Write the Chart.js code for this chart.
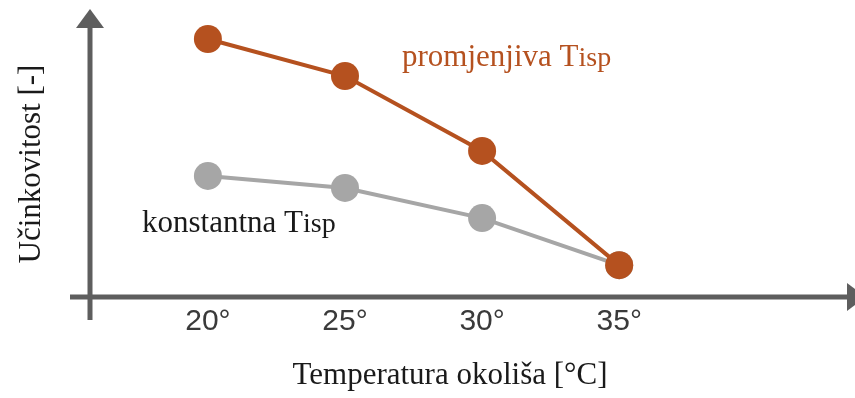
<!DOCTYPE html>
<html>
<head>
<meta charset="utf-8">
<script src="https://cdn.jsdelivr.net/npm/chart.js@4.4.0/dist/chart.umd.min.js"></script>
<style>
  html, body { margin: 0; padding: 0; background: #fff; }
  #wrap { width: 855px; height: 398px; }
</style>
</head>
<body>
<div id="wrap"><canvas id="myChart"></canvas></div>
<script>
// temperatures on the x axis
const temps = [20, 25, 30, 35];
// efficiency values (arbitrary units, 0..100)
const variableTisp = [89.9, 77.0, 50.9, 11.1];
const constantTisp = [42.2, 38.0, 27.5, 11.1];

const orange = '#B5511F';
const grey = '#A6A6A6';
const axisColor = '#5E5E5E';
const serif = '"Liberation Serif", "Times New Roman", serif';
const sans = '"Liberation Sans", Arial, sans-serif';

const toPoints = (vals) => temps.map((t, i) => ({ x: t, y: vals[i] }));

// draws arrowed axes, axis titles and the two series labels
const decor = {
    id: 'decor',
    beforeDatasetsDraw(chart) {
        const ctx = chart.ctx;
        const a = chart.chartArea;
        ctx.save();
        ctx.strokeStyle = axisColor;
        ctx.fillStyle = axisColor;
        ctx.lineWidth = 5;
        // y axis
        ctx.beginPath();
        ctx.moveTo(a.left, a.bottom + 23);
        ctx.lineTo(a.left, a.top + 16);
        ctx.stroke();
        ctx.beginPath();
        ctx.moveTo(a.left, a.top - 1);
        ctx.lineTo(a.left - 14, a.top + 18);
        ctx.lineTo(a.left + 14, a.top + 18);
        ctx.closePath();
        ctx.fill();
        // x axis
        ctx.beginPath();
        ctx.moveTo(a.left - 20, a.bottom);
        ctx.lineTo(a.right - 8, a.bottom);
        ctx.stroke();
        ctx.beginPath();
        ctx.moveTo(a.right + 11, a.bottom);
        ctx.lineTo(a.right - 8, a.bottom - 14);
        ctx.lineTo(a.right - 8, a.bottom + 14);
        ctx.closePath();
        ctx.fill();
        ctx.restore();
    },
    afterDraw(chart) {
        const ctx = chart.ctx;
        ctx.save();
        ctx.textBaseline = 'alphabetic';

        // x axis title
        ctx.fillStyle = '#1a1a1a';
        ctx.font = '31px ' + serif;
        ctx.textAlign = 'center';
        ctx.fillText('Temperatura okoliša [°C]', 450, 384);

        // y axis title
        ctx.save();
        ctx.translate(40, 164);
        ctx.rotate(-Math.PI / 2);
        ctx.fillText('Učinkovitost [-]', 0, 0);
        ctx.restore();

        // series labels with small "isp"
        const label = (main, sub, x, y, color) => {
            ctx.textAlign = 'left';
            ctx.fillStyle = color;
            ctx.font = '31px ' + serif;
            ctx.fillText(main, x, y);
            const w = ctx.measureText(main).width;
            ctx.font = '28px ' + serif;
            ctx.fillText(sub, x + w, y);
        };
        label('promjenjiva T', 'isp', 402, 66, orange);
        label('konstantna T', 'isp', 142, 232, '#1a1a1a');
        ctx.restore();
    }
};

const chart = new Chart(document.getElementById('myChart'), {
    type: 'line',
    data: {
        datasets: [
            {
                label: 'promjenjiva Tisp',
                data: toPoints(variableTisp),
                borderColor: orange,
                backgroundColor: orange,
                borderWidth: 4,
                pointRadius: 14,
                pointHoverRadius: 14,
                pointBorderWidth: 0
            },
            {
                label: 'konstantna Tisp',
                data: toPoints(constantTisp),
                borderColor: grey,
                backgroundColor: grey,
                borderWidth: 4,
                pointRadius: 14,
                pointHoverRadius: 14,
                pointBorderWidth: 0
            }
        ]
    },
    options: {
        responsive: true,
        maintainAspectRatio: false,
        animation: false,
        clip: false,
        layout: { autoPadding: false, padding: { left: 90, right: 0, top: 10, bottom: 0 } },
        plugins: {
            legend: { display: false },
            tooltip: { enabled: false }
        },
        scales: {
            x: {
                type: 'linear',
                min: 15.7,
                max: 43.6,
                border: { display: false },
                grid: { display: false, drawTicks: false },
                afterBuildTicks: (s) => { s.ticks = temps.map(v => ({ value: v })); },
                afterFit: (s) => { s.height = 101; },
                ticks: {
                    padding: 7,
                    color: '#3a3a3a',
                    font: { family: sans, size: 30 },
                    callback: (v) => v + '°'
                }
            },
            y: {
                display: false,
                min: 0,
                max: 100
            }
        }
    },
    plugins: [decor]
});
</script>
</body>
</html>
